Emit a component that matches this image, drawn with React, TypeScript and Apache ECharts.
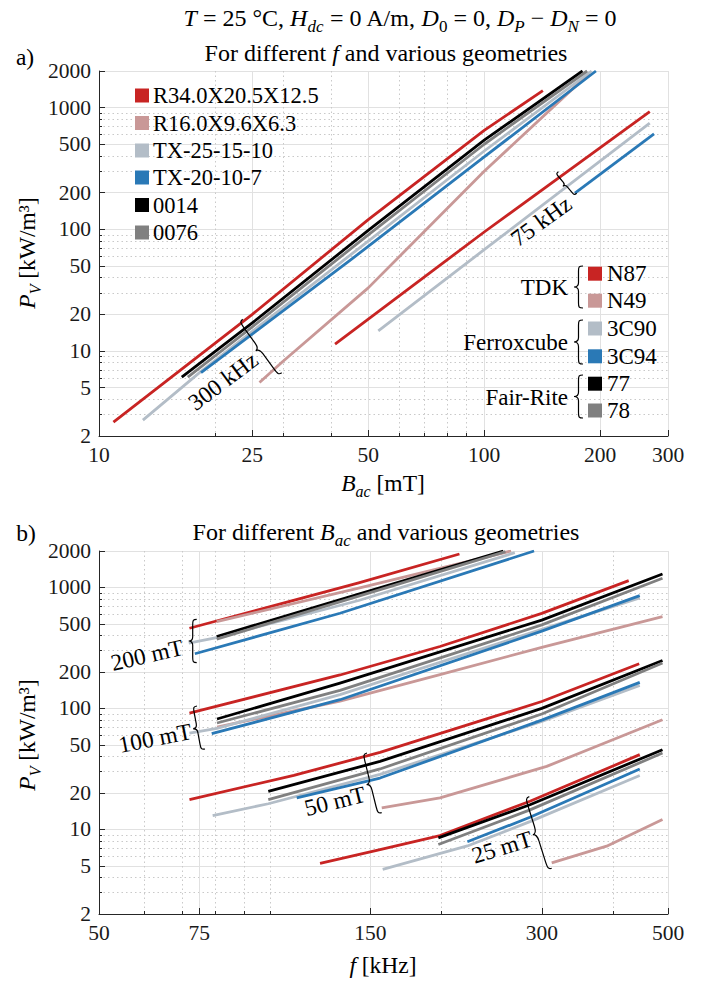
import React, { useEffect, useRef } from "react";
import * as echarts from "echarts";

const FONT = "Liberation Serif";

// ---------- legend / naming ----------
const geometryNames = ["R34.0X20.5X12.5", "R16.0X9.6X6.3", "TX-25-15-10", "TX-20-10-7", "0014", "0076"];
const materialNames = ["N87", "N49", "3C90", "3C94", "77", "78"];
const manufacturerNames = ["TDK", "Ferroxcube", "Fair-Rite"];
const seriesColors = ["#C82423", "#C99897", "#B3BDC7", "#2A79B6", "#000000", "#808080"];

// ---------- axis ticks ----------
const bacMajor = [10, 25, 50, 100, 200, 300];
const bacMinor = [20, 30, 40, 60, 70, 80, 90];
const fMajor = [50, 75, 150, 300, 500];
const fMinor = [60, 70, 80, 90, 100, 200, 400];
const pvMajor = [2, 5, 10, 20, 50, 100, 200, 500, 1000, 2000];
const pvMinor = [3, 4, 6, 7, 8, 9, 30, 40, 60, 70, 80, 90, 300, 400, 600, 700, 800, 900];

// ---------- panel a: [B_ac (mT), P_V (kW/m3)] ----------
const a300_N87 = [[10.9, 2.6], [25, 20], [50, 120], [100, 650], [142, 1380]];
const a300_N49 = [[26.1, 5.5], [30, 8.2], [50, 33], [100, 300], [188, 1930]];
const a300_3C90 = [[13, 2.7], [18.3, 6.7], [25, 14.5], [50, 80], [100, 440], [190, 2000]];
const a300_3C94 = [[18.4, 6.64], [45, 56], [100, 393], [195, 2000]];
const a300_77 = [[16.4, 6.1], [25, 17], [50, 98], [100, 540], [180, 2000]];
const a300_78 = [[17, 6.1], [25, 15.8], [50, 90], [100, 500], [185, 2000]];
const a75_N87 = [[41, 11.4], [100, 95], [269, 926]];
const a75_3C90 = [[53.1, 14.6], [100, 68], [269, 745]];
const a75_3C94 = [[172, 198], [276, 608]];

// ---------- panel b: [f (kHz), P_V (kW/m3)] ----------
const b200_N87 = [[72.1, 460], [143, 1090], [215, 1890]];
const b200_N49 = [[80.5, 522], [143, 985], [265, 2000]];
const b200_3C90 = [[71.9, 346], [80.5, 385], [143, 780], [269, 1936]];
const b200_3C94 = [[73.7, 283], [132.6, 612], [290.8, 2000]];
const b200_77 = [[80.5, 393], [143, 880], [256.7, 2000]];
const b200_78 = [[80.5, 374], [143, 847], [259, 1975]];

const b100_N87 = [[72.1, 91.6], [132.6, 189], [198.7, 325], [300, 610], [426.5, 1138]];
const b100_N49 = [[80.6, 70.2], [132.6, 115], [198.7, 190], [300, 320], [489, 574]];
const b100_3C90 = [[72.1, 62.6], [80.6, 68.5], [132.6, 130], [300, 450], [446, 820]];
const b100_3C94 = [[78.9, 61.8], [132.6, 118], [300, 435], [446, 855]];
const b100_77 = [[80.6, 81.8], [132.6, 162], [300, 537], [489, 1292]];
const b100_78 = [[80.6, 75.8], [132.6, 140.8], [300, 490], [489, 1191]];

const b50_N87 = [[72.1, 17.6], [110, 28], [155.9, 43.3], [300, 114], [445, 234]];
const b50_N49 = [[157, 15.1], [198.7, 18.2], [306, 33.2], [489, 80.7]];
const b50_3C90 = [[79.2, 13.0], [99.2, 16.3], [155.9, 28.5], [300, 78], [446, 155]];
const b50_3C94 = [[111.3, 18.2], [155.9, 26.6], [300, 80], [446, 164]];
const b50_77 = [[99.2, 20.6], [155.9, 36.5], [300, 100], [489, 249]];
const b50_78 = [[99.2, 17.6], [155.9, 31.6], [300, 90], [489, 237]];

const b25_N87 = [[122.3, 5.23], [155.9, 6.82], [198.7, 8.9], [286, 17.1], [446, 41.5]];
const b25_N49 = [[312.3, 5.3], [390, 7.27], [489, 12.07]];
const b25_3C90 = [[157.6, 4.67], [222, 7.3], [286, 11.6], [446, 27.9]];
const b25_3C94 = [[222, 7.9], [286, 12.6], [446, 31.6]];
const b25_77 = [[197.4, 8.52], [286, 16.0], [489, 45.6]];
const b25_78 = [[197.4, 7.5], [286, 14.5], [489, 42.8]];

const panelA = [
  [a300_N87, 0], [a300_N49, 1], [a300_3C90, 2], [a300_3C94, 3], [a300_77, 4], [a300_78, 5],
  [a75_N87, 0], [a75_3C90, 2], [a75_3C94, 3],
];
const panelB = [
  [b200_N87, 0], [b200_N49, 1], [b200_3C90, 2], [b200_3C94, 3], [b200_77, 4], [b200_78, 5],
  [b100_N87, 0], [b100_N49, 1], [b100_3C90, 2], [b100_3C94, 3], [b100_77, 4], [b100_78, 5],
  [b50_N87, 0], [b50_N49, 1], [b50_3C90, 2], [b50_3C94, 3], [b50_77, 4], [b50_78, 5],
  [b25_N87, 0], [b25_N49, 1], [b25_3C90, 2], [b25_3C94, 3], [b25_77, 4], [b25_78, 5],
];

// ---------- braces (annotation layout) ----------
function braceD(h: number, w: number) {
  const m = w * 0.5;
  return (
    `M${w},0 C${w * 0.55},0 ${m},${h * 0.02} ${m},${h * 0.12} ` +
    `L${m},${h * 0.4} C${m},${h * 0.47} ${w * 0.25},${h * 0.5} 0,${h * 0.5} ` +
    `C${w * 0.25},${h * 0.5} ${m},${h * 0.53} ${m},${h * 0.6} ` +
    `L${m},${h * 0.88} C${m},${h * 0.98} ${w * 0.55},${h} ${w},${h}`
  );
}
const BRACES = [
  { name: "braceTDK", ax: 583, ay: 266, bx: 583, by: 308, w: 9 },
  { name: "braceFerro", ax: 583, ay: 320, bx: 583, by: 364, w: 9 },
  { name: "braceFR", ax: 583, ay: 375, bx: 583, by: 418, w: 9 },
  { name: "braceA300", ax: 242.7, ay: 319.3, bx: 281.7, by: 372.7, w: 8 },
  { name: "braceA75", ax: 558.3, ay: 171.7, bx: 576.7, by: 193.3, w: 6 },
  { name: "braceB200", ax: 196.7, ay: 619.3, bx: 196.7, by: 662.7, w: 8 },
  { name: "braceB100", ax: 197, ay: 706, bx: 205, by: 749, w: 8 },
  { name: "braceB50", ax: 367, ay: 753, bx: 381.7, by: 812.7, w: 8 },
  { name: "braceB25", ax: 529.3, ay: 796.7, bx: 551.7, by: 868.3, w: 8 },
];
BRACES.forEach((b) => {
  const h = Math.hypot(b.bx - b.ax, b.by - b.ay);
  echarts.graphic.registerShape(b.name, echarts.graphic.extendPath(braceD(h, b.w), {}));
});

function braceEl(b: any) {
  const h = Math.hypot(b.bx - b.ax, b.by - b.ay);
  const st = (b.bx - b.ax) / h;
  const ct = (b.by - b.ay) / h;
  return {
    type: b.name,
    x: b.ax - ct * b.w,
    y: b.ay + st * b.w,
    rotation: Math.atan2(st, ct),
    silent: true,
    z: 100,
    style: { stroke: "#000", fill: "none", lineWidth: 1.2 },
  };
}

function makeRich(size: number) {
  const sub = Math.round(size * 0.7);
  return {
    r: { fontFamily: FONT, fontSize: size, fontStyle: "normal", lineHeight: size + 3, fill: "#000" },
    i: { fontFamily: FONT, fontSize: size, fontStyle: "italic", lineHeight: size + 3, fill: "#000" },
    s: { fontFamily: FONT, fontSize: sub, fontStyle: "italic", lineHeight: size + 3, height: 10, verticalAlign: "bottom", fill: "#000" },
    n: { fontFamily: FONT, fontSize: sub, fontStyle: "normal", lineHeight: size + 3, height: 10, verticalAlign: "bottom", fill: "#000" },
  };
}

function T(text: string, x: number, y: number, o: any = {}) {
  const size = o.size || 23.5;
  return {
    type: "text",
    x,
    y,
    rotation: ((o.rot || 0) * Math.PI) / 180,
    silent: true,
    z: 100,
    style: {
      text,
      fontFamily: FONT,
      fontStyle: "normal",
      fontSize: size,
      fill: "#000",
      align: o.align || "center",
      verticalAlign: "middle",
      lineHeight: size + 3,
      rich: makeRich(size),
    },
  };
}

const fmt = (v: number) => String(Math.round(v));
const AX = "#262626";

function majorAxis(gridIndex: number, min: number, max: number, ticks: number[], position: string) {
  return {
    type: "log",
    logBase: 10,
    gridIndex,
    min,
    max,
    position,
    axisLine: { show: true, onZero: false, lineStyle: { color: AX, width: 1 } },
    axisTick: { show: true, inside: true, length: 6, customValues: ticks, lineStyle: { color: AX, width: 1 } },
    axisLabel: {
      show: true,
      customValues: ticks,
      formatter: fmt,
      margin: 8,
      fontFamily: FONT,
      fontStyle: "normal",
      fontSize: 21.5,
      color: "#1a1a1a",
      showMinLabel: true,
      showMaxLabel: true,
    },
    splitLine: { show: true, lineStyle: { color: "#e1e1e1", width: 1 } },
    minorTick: { show: false },
    minorSplitLine: { show: false },
  };
}
function minorAxis(gridIndex: number, min: number, max: number, ticks: number[], position: string) {
  return {
    type: "log",
    logBase: 10,
    gridIndex,
    min,
    max,
    position,
    axisLine: { show: false, onZero: false },
    axisLabel: { show: false },
    axisTick: { show: true, inside: true, length: 3, customValues: ticks, lineStyle: { color: AX, width: 1 } },
    splitLine: { show: true, lineStyle: { color: "#c9c9c9", width: 1, type: [1.5, 3] } },
  };
}

function makeSeries(list: any[], xi: number, yi: number) {
  return list.map(([data, c], k) => ({
    type: "line",
    xAxisIndex: xi,
    yAxisIndex: yi,
    data,
    showSymbol: false,
    symbol: "none",
    smooth: false,
    silent: true,
    z: 2 + (c as number) * 0.1 + k * 0.001,
    lineStyle: { color: seriesColors[c as number], width: 2.8, cap: "butt", join: "round" },
  }));
}

export default function App() {
  const ref = useRef<HTMLDivElement>(null);
  useEffect(() => {
    if (!ref.current) return;
    const chart = echarts.init(ref.current, undefined, { renderer: "svg" });

    const graphic: any[] = [];
    graphic.push(T("{i|T}{r| = 25 °C, }{i|H}{s|dc}{r| = 0 A/m, }{i|D}{n|0}{r| = 0, }{i|D}{s|P}{r| − }{i|D}{s|N}{r| = 0}", 400, 18, { size: 24 }));
    graphic.push(T("{r|a)}", 25, 57));
    graphic.push(T("{r|b)}", 26, 533));
    graphic.push(T("{r|For different }{i|f}{r| and various geometries}", 386, 53, { size: 24 }));
    graphic.push(T("{r|For different }{i|B}{s|ac}{r| and various geometries}", 386, 532, { size: 24 }));
    graphic.push(T("{i|B}{s|ac}{r| [mT]}", 383, 483));
    graphic.push(T("{i|f}{r| [kHz]}", 383, 965));
    graphic.push(T("{i|P}{s|V}{r| [kW/m³]}", 27, 253, { rot: 90 }));
    graphic.push(T("{i|P}{s|V}{r| [kW/m³]}", 27, 735, { rot: 90 }));
    graphic.push(T("{r|300 kHz}", 223, 381, { rot: 37 }));
    graphic.push(T("{r|75 kHz}", 541, 221, { rot: 36 }));
    graphic.push(T("{r|200 mT}", 147, 655, { rot: 13 }));
    graphic.push(T("{r|100 mT}", 155, 738, { rot: 11 }));
    graphic.push(T("{r|50 mT}", 335, 801, { rot: 14 }));
    graphic.push(T("{r|25 mT}", 502, 847, { rot: 17 }));

    // geometry legend (panel a, top-left)
    const geoRows = [95.5, 123, 150.5, 177.5, 205, 232.5];
    geometryNames.forEach((name, i) => {
      graphic.push({ type: "rect", silent: true, z: 100, shape: { x: 135, y: geoRows[i] - 7, width: 14, height: 14 }, style: { fill: seriesColors[i] } });
      graphic.push(T(`{r|${name}}`, 153, geoRows[i], { align: "left", size: 22.5 }));
    });
    // material legend (panel a, bottom-right)
    const matRows = [273.7, 300.7, 328.5, 356.3, 383.7, 410.5];
    materialNames.forEach((name, i) => {
      graphic.push({ type: "rect", silent: true, z: 100, shape: { x: 588, y: matRows[i] - 7, width: 14, height: 14 }, style: { fill: seriesColors[i] } });
      graphic.push(T(`{r|${name}}`, 607, matRows[i], { align: "left", size: 23 }));
    });
    manufacturerNames.forEach((name, g) => {
      const y = (matRows[2 * g] + matRows[2 * g + 1]) / 2;
      graphic.push(T(`{r|${name}}`, 568, y, { align: "right", size: 23 }));
    });
    BRACES.forEach((b) => graphic.push(braceEl(b)));

    chart.setOption({
      animation: false,
      backgroundColor: "#ffffff",
      textStyle: { fontFamily: FONT },
      grid: [
        { left: 99, top: 71, width: 569, height: 365, containLabel: false, outerBoundsMode: "none" },
        { left: 99, top: 551, width: 569, height: 363, containLabel: false, outerBoundsMode: "none" },
      ],
      xAxis: [
        majorAxis(0, 10, 300, bacMajor, "bottom"),
        minorAxis(0, 10, 300, bacMinor, "bottom"),
        majorAxis(1, 50, 500, fMajor, "bottom"),
        minorAxis(1, 50, 500, fMinor, "bottom"),
      ],
      yAxis: [
        majorAxis(0, 2, 2000, pvMajor, "left"),
        minorAxis(0, 2, 2000, pvMinor, "left"),
        majorAxis(1, 2, 2000, pvMajor, "left"),
        minorAxis(1, 2, 2000, pvMinor, "left"),
      ],
      series: [...makeSeries(panelA, 0, 0), ...makeSeries(panelB, 2, 2)],
      graphic,
    });
    return () => chart.dispose();
  }, []);
  return <div ref={ref} style={{ position: "absolute", left: 0, top: 0, width: 715, height: 982 }} />;
}
